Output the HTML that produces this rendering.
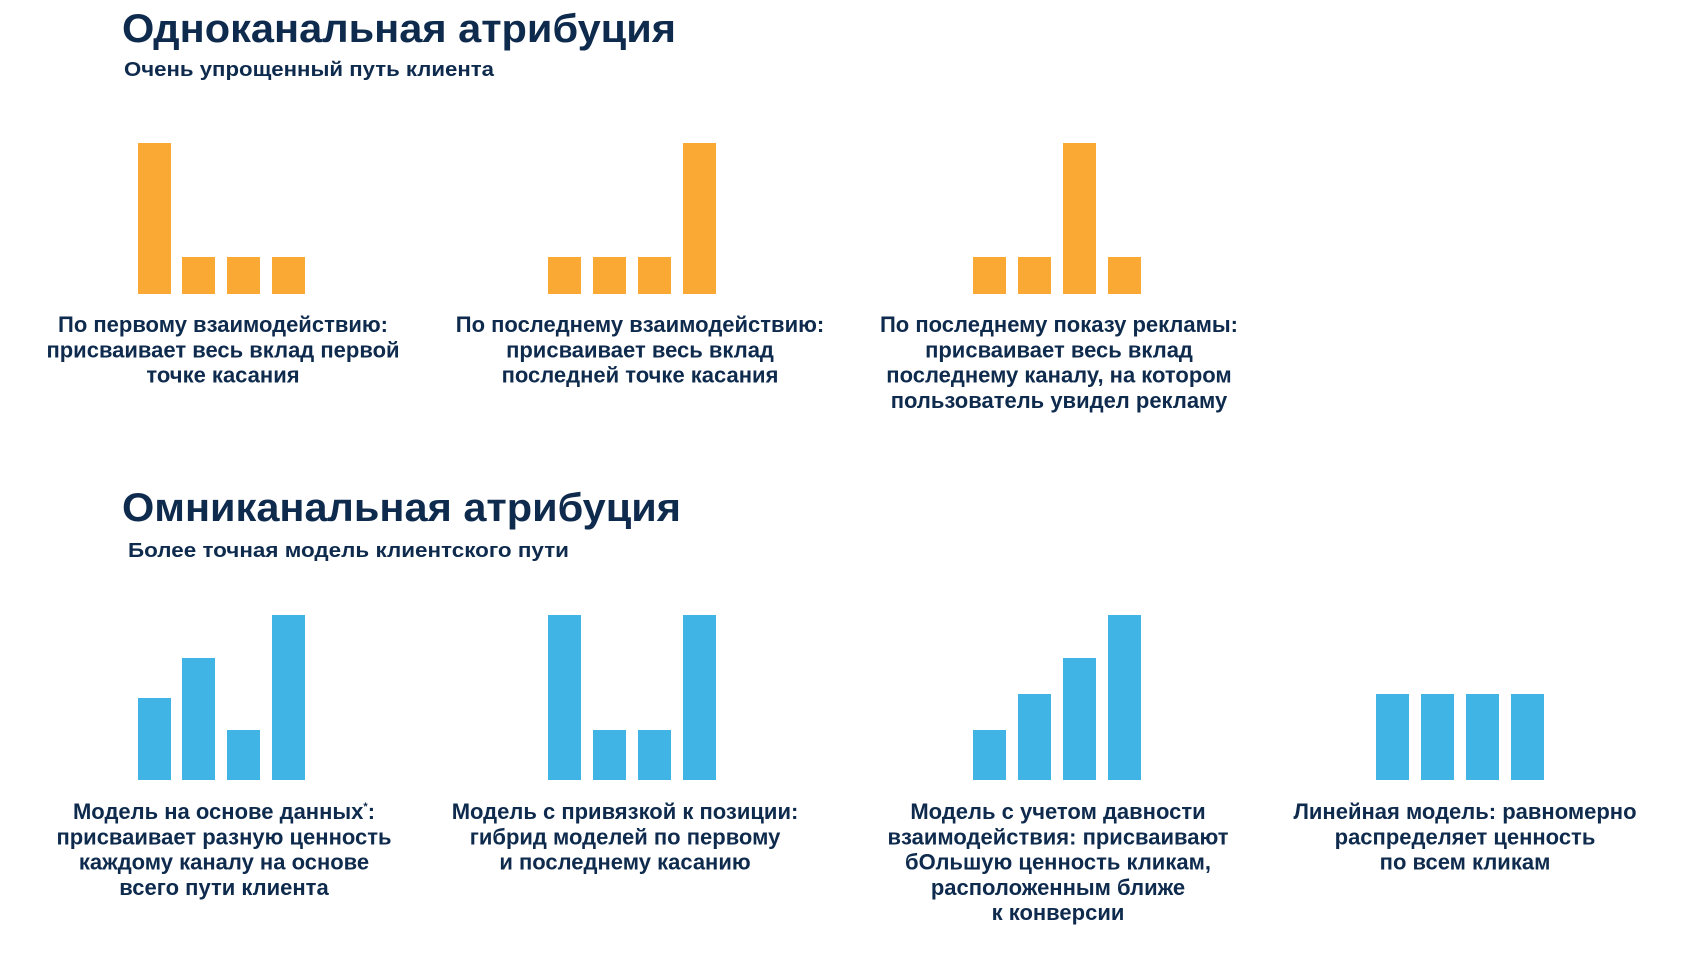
<!DOCTYPE html>
<html><head><meta charset="utf-8"><style>
html,body{margin:0;padding:0;background:#fff;}
svg{display:block;}
text{font-family:"Liberation Sans",Arial,sans-serif;font-weight:bold;fill:#0E2A4D;}
.c{font-size:22px;text-anchor:middle;}
</style></head><body>
<svg width="1688" height="958" viewBox="0 0 1688 958" xmlns="http://www.w3.org/2000/svg">
<text x="122" y="42" font-size="40" textLength="554" lengthAdjust="spacingAndGlyphs">Одноканальная атрибуция</text>
<text x="124" y="76" font-size="20" textLength="370" lengthAdjust="spacingAndGlyphs">Очень упрощенный путь клиента</text>
<g fill="#F9A934">
<rect x="138" y="143" width="33" height="151"/><rect x="182" y="257" width="33" height="37"/><rect x="227" y="257" width="33" height="37"/><rect x="272" y="257" width="33" height="37"/>
<rect x="548" y="257" width="33" height="37"/><rect x="593" y="257" width="33" height="37"/><rect x="638" y="257" width="33" height="37"/><rect x="683" y="143" width="33" height="151"/>
<rect x="973" y="257" width="33" height="37"/><rect x="1018" y="257" width="33" height="37"/><rect x="1063" y="143" width="33" height="151"/><rect x="1108" y="257" width="33" height="37"/>
</g>
<text class="c" x="223" y="332"><tspan x="223">По первому взаимодействию:</tspan><tspan x="223" dy="25.3">присваивает весь вклад первой</tspan><tspan x="223" dy="25.3">точке касания</tspan></text>
<text class="c" x="640" y="332"><tspan x="640">По последнему взаимодействию:</tspan><tspan x="640" dy="25.3">присваивает весь вклад</tspan><tspan x="640" dy="25.3">последней точке касания</tspan></text>
<text class="c" x="1059" y="332"><tspan x="1059">По последнему показу рекламы:</tspan><tspan x="1059" dy="25.3">присваивает весь вклад</tspan><tspan x="1059" dy="25.3">последнему каналу, на котором</tspan><tspan x="1059" dy="25.3">пользователь увидел рекламу</tspan></text>

<text x="122" y="521" font-size="40" textLength="559" lengthAdjust="spacingAndGlyphs">Омниканальная атрибуция</text>
<text x="128" y="557" font-size="20" textLength="441" lengthAdjust="spacingAndGlyphs">Более точная модель клиентского пути</text>
<g fill="#3FB4E5">
<rect x="138" y="698" width="33" height="82"/><rect x="182" y="658" width="33" height="122"/><rect x="227" y="730" width="33" height="50"/><rect x="272" y="615" width="33" height="165"/>
<rect x="548" y="615" width="33" height="165"/><rect x="593" y="730" width="33" height="50"/><rect x="638" y="730" width="33" height="50"/><rect x="683" y="615" width="33" height="165"/>
<rect x="973" y="730" width="33" height="50"/><rect x="1018" y="694" width="33" height="86"/><rect x="1063" y="658" width="33" height="122"/><rect x="1108" y="615" width="33" height="165"/>
<rect x="1376" y="694" width="33" height="86"/><rect x="1421" y="694" width="33" height="86"/><rect x="1466" y="694" width="33" height="86"/><rect x="1511" y="694" width="33" height="86"/>
</g>
<text class="c" x="224" y="819"><tspan x="224">Модель на основе данных<tspan font-size="11" dy="-9">*</tspan><tspan dy="9">:</tspan></tspan><tspan x="224" dy="25.3">присваивает разную ценность</tspan><tspan x="224" dy="25.3">каждому каналу на основе</tspan><tspan x="224" dy="25.3">всего пути клиента</tspan></text>
<text class="c" x="625" y="819"><tspan x="625">Модель с привязкой к позиции:</tspan><tspan x="625" dy="25.3">гибрид моделей по первому</tspan><tspan x="625" dy="25.3">и последнему касанию</tspan></text>
<text class="c" x="1058" y="819"><tspan x="1058">Модель с учетом давности</tspan><tspan x="1058" dy="25.3">взаимодействия: присваивают</tspan><tspan x="1058" dy="25.3">бОльшую ценность кликам,</tspan><tspan x="1058" dy="25.3">расположенным ближе</tspan><tspan x="1058" dy="25.3">к конверсии</tspan></text>
<text class="c" x="1465" y="819"><tspan x="1465">Линейная модель: равномерно</tspan><tspan x="1465" dy="25.3">распределяет ценность</tspan><tspan x="1465" dy="25.3">по всем кликам</tspan></text>
</svg>
</body></html>
